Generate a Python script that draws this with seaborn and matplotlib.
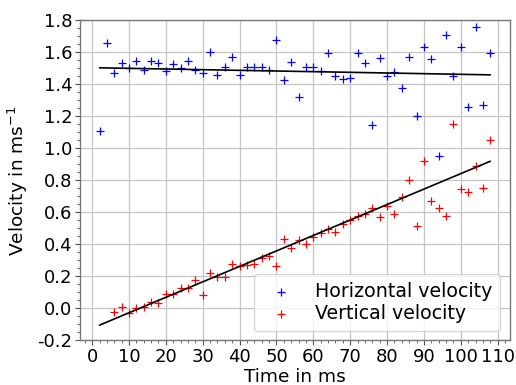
import numpy as np
import pandas as pd
import matplotlib
matplotlib.use("Agg")
import matplotlib.pyplot as plt
from matplotlib.ticker import MultipleLocator, AutoMinorLocator
import seaborn as sns

# Time stamps (ms) for each frame
time_h = list(range(2, 110, 2))
time_v = list(range(6, 110, 2))

horizontal = [1.108, 1.656, 1.471, 1.537, 1.504, 1.546, 1.491, 1.544, 1.535, 1.483,
              1.525, 1.504, 1.548, 1.489, 1.469, 1.600, 1.460, 1.510, 1.571, 1.456,
              1.506, 1.506, 1.508, 1.491, 1.677, 1.425, 1.538, 1.319, 1.506, 1.506,
              1.485, 1.594, 1.450, 1.435, 1.441, 1.596, 1.535, 1.148, 1.563, 1.450,
              1.475, 1.379, 1.571, 1.202, 1.633, 1.556, 0.954, 1.712, 1.450, 1.631,
              1.256, 1.760, 1.273, 1.598]

vertical = [-0.019, 0.008, -0.031, 0.002, 0.008, 0.038, 0.035, 0.089, 0.088, 0.129,
            0.129, 0.179, 0.085, 0.223, 0.198, 0.198, 0.275, 0.263, 0.270, 0.281,
            0.314, 0.325, 0.263, 0.435, 0.379, 0.427, 0.402, 0.446, 0.469, 0.496,
            0.475, 0.529, 0.552, 0.581, 0.591, 0.625, 0.573, 0.639, 0.588, 0.694,
            0.800, 0.513, 0.923, 0.673, 0.627, 0.579, 1.154, 0.744, 0.725, 0.889,
            0.756, 1.052]

# Linear trend lines: (slope per ms, intercept)
trend_h = (-0.000415, 1.5048)
trend_v = (0.00966, -0.1233)

df_h = pd.DataFrame({"t": time_h, "v": horizontal})
df_v = pd.DataFrame({"t": time_v, "v": vertical})

t_fit = np.array([time_h[0], time_h[-1]])
df_fit_h = pd.DataFrame({"t": t_fit, "v": np.polyval(trend_h, t_fit)})
df_fit_v = pd.DataFrame({"t": t_fit, "v": np.polyval(trend_v, t_fit)})

sns.set_style("ticks")
plt.rcParams["font.family"] = ["DejaVu Sans"]
plt.rcParams["text.color"] = "black"
plt.rcParams["axes.labelcolor"] = "black"
plt.rcParams["xtick.color"] = "black"
plt.rcParams["ytick.color"] = "black"

fig = plt.figure(figsize=(5.16, 3.85), dpi=100)
ax = fig.add_axes([0.155, 0.1156, 0.833, 0.8313])

sns.scatterplot(data=df_h, x="t", y="v", marker="+", color="blue", s=40,
                linewidth=0.9, label="Horizontal velocity", ax=ax)
sns.scatterplot(data=df_v, x="t", y="v", marker="+", color="red", s=40,
                linewidth=0.9, label="Vertical velocity", ax=ax)
sns.lineplot(data=df_fit_h, x="t", y="v", color="black", linewidth=1.2, ax=ax)
sns.lineplot(data=df_fit_v, x="t", y="v", color="black", linewidth=1.2, ax=ax)

ax.set_xlim(-3.3, 113.3)
ax.set_ylim(-0.2, 1.8)
ax.xaxis.set_major_locator(MultipleLocator(10))
ax.yaxis.set_major_locator(MultipleLocator(0.2))
ax.xaxis.set_minor_locator(AutoMinorLocator(5))
ax.yaxis.set_minor_locator(AutoMinorLocator(4))
ax.set_yticks(ax.get_yticks())
ax.set_yticklabels([f"{v:.1f}" for v in ax.get_yticks()])
ax.set_ylim(-0.2, 1.8)
ax.grid(True, which="major", color="#c4c4c4", linewidth=0.9)
ax.set_axisbelow(True)

ax.tick_params(axis="both", which="major", labelsize=13, length=3.5,
               width=0.8, color="#555555", labelcolor="black", pad=2)
ax.tick_params(axis="both", which="minor", length=2, width=0.6, color="#555555")
for sp in ax.spines.values():
    sp.set_visible(True)
    sp.set_color("#777777")
    sp.set_linewidth(1.0)

ax.set_xlabel("Time in ms", fontsize=13.3, labelpad=1, color="black")
ax.set_ylabel("Velocity in ms$^{-1}$", fontsize=13.3, labelpad=5, color="black")

leg = ax.legend(loc="lower right", fontsize=13.7, markerscale=0.9,
                handlelength=2.0, labelspacing=0.2)
for txt in leg.get_texts():
    txt.set_color("black")

fig.savefig("out.png", dpi=100)
